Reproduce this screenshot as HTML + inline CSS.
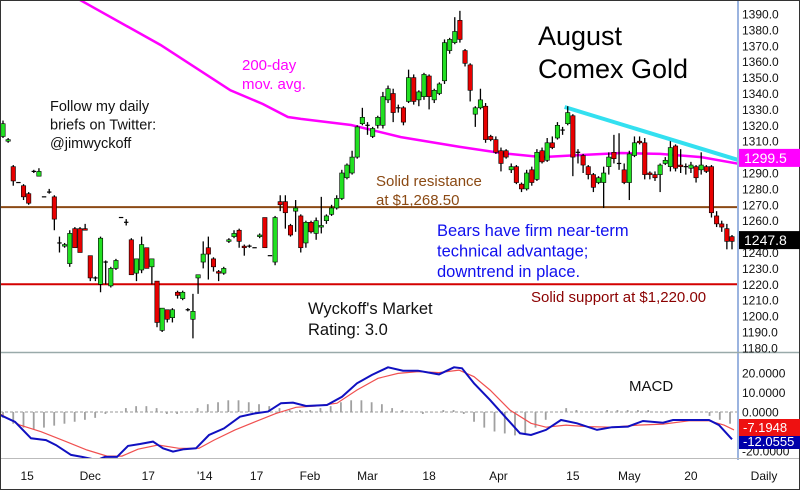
<!DOCTYPE html>
<html><head><meta charset="utf-8"><style>
html,body{margin:0;padding:0;background:#fff}
svg{display:block;font-family:"Liberation Sans","DejaVu Sans",sans-serif}
</style></head><body>
<svg id="chart" width="800" height="490" viewBox="0 0 800 490">
<rect x="0" y="0" width="800" height="490" fill="#fff"/>
<g id="grid"></g>
<g id="ma"></g>
<g id="candles"></g>
<g id="annot"></g>
<g id="macd"></g>
<g id="axes"></g>
</svg>
<script>
const candleOHLC = [
[1313,1323,1312,1321],[1310,1312,1309,1311],[1294,1295,1282,1285],[1284,1284,1284,1284],[1282,1283,1273,1275],
[1277,1278,1270,1271],[1291,1292,1290,1291],[1288,1293,1288,1291],[1275,1275,1275,1275],[1278,1280,1277,1278],
[1275,1276,1254,1261],[1246,1250,1240,1246],[1244,1246,1243,1245],[1233,1254,1231,1252],[1255,1256,1243,1243],
[1255,1256,1240,1240],[1255,1258,1254,1254],[1238,1238,1222,1224],[1224,1225,1222,1224],[1220,1250,1215,1249],
[1234,1235,1220,1234],[1219,1231,1218,1230],[1230,1236,1229,1235],[1262,1262,1262,1262],[1259,1261,1257,1259],
[1248,1249,1226,1226],[1227,1236,1222,1236],[1229,1250,1227,1245],[1243,1243,1230,1230],[1231,1236,1220,1236],
[1222,1222,1193,1196],[1191,1205,1190,1205],[1204,1204,1196,1198],[1199,1205,1196,1204],[1215,1216,1211,1213],
[1211,1216,1210,1215],[1204,1205,1203,1204],[1198,1214,1186,1203],[1224,1226,1214,1226],[1234,1247,1230,1239],
[1243,1250,1223,1239],[1236,1237,1228,1231],[1228,1229,1222,1227],[1227,1231,1226,1230],[1247,1249,1246,1248],
[1250,1254,1249,1252],[1254,1255,1243,1247],[1244,1245,1238,1243],[1244,1245,1243,1244],[1243,1243,1243,1243],
[1250,1252,1249,1251],[1262,1262,1243,1243],[1238,1238,1238,1238],[1234,1263,1232,1262],[1272,1276,1266,1270],
[1272,1276,1255,1265],[1257,1258,1250,1251],[1266,1273,1253,1268],[1263,1264,1240,1243],[1246,1260,1243,1259],
[1259,1260,1252,1253],[1252,1262,1248,1260],[1256,1275,1252,1257],[1260,1264,1258,1263],[1264,1270,1263,1268],
[1268,1276,1267,1274],[1274,1292,1273,1290],[1287,1296,1286,1295],[1290,1304,1289,1300],[1300,1320,1299,1319],
[1321,1331,1320,1325],[1320,1322,1314,1320],[1313,1319,1312,1318],[1320,1326,1318,1325],[1320,1341,1318,1338],
[1336,1345,1334,1343],[1340,1343,1322,1328],[1331,1333,1328,1331],[1331,1332,1320,1322],[1335,1355,1334,1350],
[1350,1352,1333,1335],[1336,1342,1332,1341],[1338,1353,1336,1352],[1351,1352,1330,1338],[1336,1343,1334,1342],
[1340,1347,1339,1346],[1348,1374,1346,1372],[1367,1375,1365,1374],[1372,1388,1371,1379],[1386,1392,1372,1374],
[1367,1368,1357,1359],[1358,1359,1335,1342],[1327,1332,1319,1331],[1331,1343,1330,1336],[1332,1334,1309,1311],
[1313,1314,1310,1311],[1311,1313,1302,1303],[1304,1306,1291,1296],[1304,1305,1299,1300],[1292,1296,1290,1294],
[1294,1295,1283,1284],[1283,1284,1278,1280],[1280,1292,1279,1290],[1292,1294,1282,1284],[1286,1305,1285,1303],
[1304,1306,1296,1297],[1298,1312,1297,1309],[1309,1313,1305,1306],[1312,1322,1311,1320],[1317,1319,1314,1317],
[1321,1332,1320,1328],[1326,1327,1288,1300],[1303,1305,1296,1303],[1301,1302,1290,1295],[1294,1295,1286,1289],
[1289,1290,1278,1281],[1284,1288,1283,1287],[1284,1294,1268,1290],[1294,1303,1289,1300],[1303,1314,1296,1299],
[1296,1315,1292,1296],[1292,1296,1283,1284],[1284,1304,1273,1302],[1301,1313,1300,1309],[1310,1313,1308,1309],
[1309,1312,1286,1289],[1290,1291,1286,1289],[1289,1291,1285,1287],[1289,1296,1278,1295],[1296,1300,1295,1298],
[1294,1310,1291,1306],[1307,1308,1291,1293],[1295,1305,1290,1294],[1294,1296,1289,1294],[1293,1297,1290,1295],
[1294,1295,1284,1287],[1292,1303,1289,1295],[1294,1295,1290,1291],[1294,1295,1262,1265],[1263,1266,1256,1258],
[1258,1260,1253,1256],[1255,1258,1242,1247],[1250,1251,1242,1247]
];
const maIdx = [10,15,30.7,44.3,50.6,55.5,58,67.8,77.5,89,97,105,110.7,120.5,128,136,143.4];
const maVal = [1410,1398.8,1370.5,1342,1333.4,1325.2,1324,1320.2,1312.6,1306.4,1302.6,1300,1301,1302.6,1302,1300,1295.7];
const trendIdx = [109.4,143.4];
const trendVal = [1331.5,1298];
const resistance = 1268.5, support = 1220.0;
const lastPrice = 1247.8, maLast = 1299.5;
const priceTicks = [1180,1190,1200,1210,1220,1230,1240,1250,1260,1270,1280,1290,1300,1310,1320,1330,1340,1350,1360,1370,1380,1390];
const macdX = [0,15,31,46,56,71,82,97,105,117,128,140,153,163,173,184,196,209,224,240,255,268,281,293,306,327,342,357,372,388,403,418,439,454,462,474,490,505,520,531,546,561,577,597,612,628,643,663,673,709,719,732];
const macdVal = [-1.5,-5,-13.5,-14.4,-17,-22,-23,-24.6,-23,-23,-17.4,-16.4,-15.2,-18.6,-20.3,-19.1,-18.6,-11.8,-8.4,-2.4,-0.7,0.2,4.5,4.8,3.1,3.6,7.8,14.7,19,22.9,21.2,21.2,19.3,22.9,22.4,14.7,6.2,-2.4,-10.9,-11.8,-9.2,-4.1,-5.8,-9.2,-7.8,-7.5,-4.6,-5.5,-4.1,-4.1,-6.7,-14];
const sigX = [0,20,41,66,87,107,122,138,158,179,199,214,235,255,276,296,316,337,357,378,398,418,439,459,474,490,510,531,546,566,587,612,638,663,689,709,724,734];
const sigVal = [-1,-6.7,-10.1,-15.2,-19.5,-22.6,-22.6,-19.1,-16.9,-18.6,-18.6,-14.4,-9.2,-5,-0.7,2.4,3.1,4.5,11.3,17.3,19.8,20.7,20.2,21.5,18.1,11.3,1,-5.8,-7.8,-6.7,-7.5,-7.8,-6.7,-6.2,-4.5,-4.5,-6.7,-9.2];
const histVal = [-3,-6,-8,-9,-8,-7,-6,-5,-4,-3,-1,0,2,3,3,2,-1,-1,0,2,4,5,6,6,5,4,3,2,1,1,1,2,3,5,6,6,5,4,2,1,0,-1,0,1,1,-1,-5,-8,-10,-11,-12,-11,-8,-4,0,2,1,0,0,1,1,1,1,1,0,0,0,0,0,-2,-4,-6];
const macdTicks = [20,10,0,-20];
const macdTickLabels = ["20.0000","10.0000","0.0000","-20.0000"];
const macdLast = -7.1948, sigLastLabel = "-12.0555";
const dateIdx = [4.7,17,28.3,39.3,49.4,59.8,71,83,96.5,111,122,134];
const dateLabels = ["15","Dec","17","'14","17","Feb","Mar","18","Apr","15","May","20"];

const NS="http://www.w3.org/2000/svg";
const PL=0, PR=737;
function xi(i){return 3 + i*(732-3)/(candleOHLC.length-1);}
function yp(p){return 14 + (1390-p)*1.59;}
function ym(v){return 412 - v*1.95;}
function mk(tag,attrs,parent){const e=document.createElementNS(NS,tag);for(const k in attrs)e.setAttribute(k,attrs[k]);parent.appendChild(e);return e;}
const G=id=>document.getElementById(id);

// clip for price panel
const defs=mk('defs',{},G('chart'));
const cp=mk('clipPath',{id:'pclip'},defs); mk('rect',{x:0,y:0,width:737,height:352},cp);
const cm=mk('clipPath',{id:'mclip'},defs); mk('rect',{x:0,y:355,width:737,height:103},cm);

// horizontal levels
let l=mk('line',{x1:0,x2:737,y1:yp(resistance),y2:yp(resistance),stroke:'#8b4a14','stroke-width':2},G('grid'));


l=mk('line',{x1:0,x2:737,y1:yp(support),y2:yp(support),stroke:'#d40000','stroke-width':2},G('grid'));



// MA
G('ma').setAttribute('clip-path','url(#pclip)');
let d=maIdx.map((v,k)=>(k?'L':'M')+xi(v).toFixed(1)+','+yp(maVal[k]).toFixed(1)).join(' ');
let ma=mk('path',{d:d,fill:'none',stroke:'#ff00ff','stroke-width':2.5},G('ma'));


let tr=mk('line',{x1:xi(trendIdx[0]),y1:yp(trendVal[0]),x2:xi(trendIdx[1]),y2:yp(trendVal[1]),stroke:'#33e0f0','stroke-width':4},G('ma'));



// candles
candleOHLC.forEach((c,i)=>{
  const x=xi(i),[o,h,lo,cl]=c;
  const g=mk('g',{},G('candles'));
  
  
  mk('line',{x1:x,x2:x,y1:yp(h),y2:yp(lo),stroke:'#000','stroke-width':1.3},g);
  const top=yp(Math.max(o,cl)), bot=yp(Math.min(o,cl));
  const up=cl>o, flat=Math.abs(cl-o)<0.5;
  if(flat){mk('line',{x1:x-2.2,x2:x+2.2,y1:top,y2:top,stroke:'#000','stroke-width':1.2},g);}
  else mk('rect',{x:x-2.2,y:top,width:4.4,height:Math.max(1.5,bot-top),fill:up?'#22e022':'#e80000',stroke:'#000','stroke-width':0.6},g);
});

// panel frames
const ax=G('axes');
mk('line',{x1:738,x2:738,y1:0,y2:460,stroke:'#7a9bd6','stroke-width':1.5},ax);
mk('line',{x1:0,x2:800,y1:352.5,y2:352.5,stroke:'#9aa','stroke-width':1.5},ax);
mk('line',{x1:0,x2:800,y1:458.5,y2:458.5,stroke:'#bbb','stroke-width':1},ax);
mk('rect',{x:0.5,y:0.5,width:799,height:489,fill:'none',stroke:'#333','stroke-width':1},ax);
priceTicks.forEach(p=>{
  const t=mk('text',{x:742,y:yp(p)+4.5,'font-size':12,fill:'#111'},ax);t.textContent=p.toFixed(1);
  
  
});
let b=mk('rect',{x:739,y:yp(maLast)-9,width:61,height:18,fill:'#ff00ff'},ax);


let t=mk('text',{x:744,y:yp(maLast)+5,'font-size':14,fill:'#fff'},ax);t.textContent=maLast.toFixed(1);
b=mk('rect',{x:739,y:yp(lastPrice)-9,width:61,height:18,fill:'#000'},ax);


t=mk('text',{x:744,y:yp(lastPrice)+5,'font-size':14,fill:'#fff'},ax);t.textContent=lastPrice.toFixed(1);

// annotations
const A=G('annot');
function txt(lines,x,y,lh,size,col,name){
  const e=mk('text',{x:x,y:y,'font-size':size,fill:col},A);
  
  
  lines.forEach((s,k)=>{const ts=mk('tspan',{x:x,dy:k?lh:0},e);ts.textContent=s;});
}
txt(["200-day","mov. avg."],242,70,19,15,'#ff00ff','ma-label');
txt(["Follow my daily","briefs on Twitter:","@jimwyckoff"],50,111,18.5,14.5,'#111','twitter-note');
txt(["August","Comex Gold"],538,45,33,27,'#000','chart-title');
txt(["Solid resistance","at $1,268.50"],376,186,19,15,'#8b4a14','resistance-label');
txt(["Bears have firm near-term","technical advantage;","downtrend in place."],437,236,20.5,16.5,'#1010ee','bearish-comment');
txt(["Solid support at $1,220.00"],531,302,19,15,'#8b0000','support-label');
txt(["Wyckoff's Market","Rating: 3.0"],308,314,21,16.5,'#111','market-rating');

// MACD
const M=G('macd');M.setAttribute('clip-path','url(#mclip)');
mk('line',{x1:0,x2:737,y1:ym(0),y2:ym(0),stroke:'#999','stroke-width':1,'stroke-dasharray':'3,2'},M);
histVal.forEach((v,k)=>{
  const x=3+k*10.24;
  const r=mk('rect',{x:x-0.9,y:Math.min(ym(0),ym(v)),width:1.8,height:Math.abs(ym(v)-ym(0)),fill:'#a0a0a0'},M);
  
  
});
let ps=mk('path',{d:sigX.map((x,k)=>(k?'L':'M')+x+','+ym(sigVal[k]).toFixed(1)).join(' '),fill:'none',stroke:'#f05050','stroke-width':1.2},M);


let pm=mk('path',{d:macdX.map((x,k)=>(k?'L':'M')+x+','+ym(macdVal[k]).toFixed(1)).join(' '),fill:'none',stroke:'#1010c0','stroke-width':2},M);


t=mk('text',{x:629,y:391,'font-size':15,fill:'#111'},ax);t.textContent='MACD';


macdTicks.forEach((v,k)=>{
  const e=mk('text',{x:742,y:ym(v)+4.5,'font-size':12,fill:'#111'},ax);e.textContent=macdTickLabels[k];
  
  
});
b=mk('rect',{x:739,y:419,width:61,height:17,fill:'#ee1111'},ax);


t=mk('text',{x:743,y:432,'font-size':13,fill:'#fff'},ax);t.textContent=macdLast.toFixed(4);
b=mk('rect',{x:739,y:436,width:61,height:13,fill:'#0000aa'},ax);


t=mk('text',{x:743,y:446,'font-size':13,fill:'#fff'},ax);t.textContent=sigLastLabel;

// date axis
dateIdx.forEach((v,k)=>{
  const e=mk('text',{x:xi(v),y:480,'font-size':12,fill:'#111','text-anchor':'middle'},ax);e.textContent=dateLabels[k];
  
  
});
t=mk('text',{x:764,y:480,'font-size':12,fill:'#111','text-anchor':'middle'},ax);t.textContent='Daily';


</script>
</body></html>
